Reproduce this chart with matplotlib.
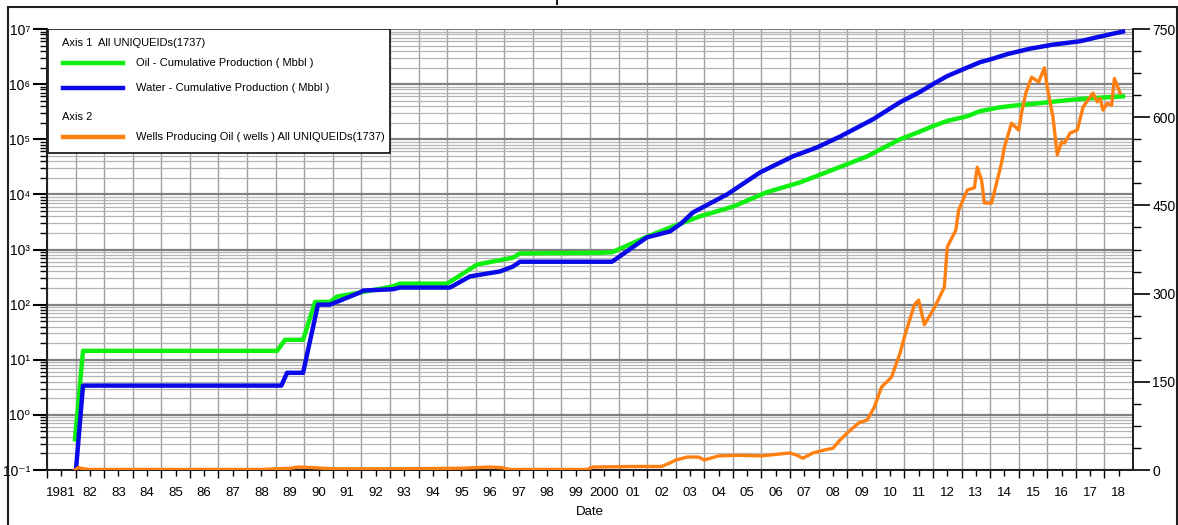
import matplotlib.pyplot as plt
import matplotlib.ticker as mticker
from matplotlib.lines import Line2D
from matplotlib.patches import Rectangle
import numpy as np

plt.rcParams['font.family'] = ['Liberation Sans', 'DejaVu Sans']

# cumulative oil (Mbbl)
oil_t = [1981.98, 1982.26, 1989.05, 1989.33, 1989.96, 1990.38, 1990.90, 1991.15, 1991.95,
         1993.10, 1993.35, 1995.00, 1996.05, 1997.30, 1997.55, 2000.35, 2000.77, 2001.99,
         2002.80, 2003.85, 2005.00, 2006.20, 2007.35, 2008.50, 2009.70, 2010.15, 2010.85,
         2011.50, 2012.00, 2012.50, 2013.20, 2013.65, 2014.00, 2014.35, 2014.90, 2015.40,
         2016.20, 2017.15, 2017.90, 2018.65]
oil_v = [0.36, 14.5, 14.5, 23, 23, 112, 112, 140, 166,
         214, 240, 240, 534, 710, 850, 870, 890, 1700,
         2500, 4000, 6000, 11000, 16500, 28000, 49000, 65000, 100000,
         135000, 173000, 215000, 262000, 324000, 350000, 380000, 410000, 433000,
         480000, 537000, 570000, 600000]

# cumulative water (Mbbl)
water_t = [1982.02, 1982.26, 1989.20, 1989.40, 1989.96, 1990.48, 1990.90, 1991.60, 1991.95,
           1992.06, 1993.10, 1993.35, 1995.10, 1995.80, 1996.85, 1997.30, 1997.55, 2000.77,
           2001.99, 2002.80, 2003.20, 2003.60, 2004.80, 2005.95, 2007.10, 2007.94, 2008.75,
           2009.90, 2010.85, 2011.50, 2012.00, 2012.50, 2013.20, 2013.65, 2014.10, 2014.60,
           2015.40, 2016.20, 2017.15, 2017.90, 2018.65]
water_v = [0.11, 3.4, 3.4, 5.8, 5.8, 100, 100, 140, 166,
           180, 190, 204, 204, 325, 400, 490, 600, 600,
           1660, 2130, 3000, 4700, 10000, 25000, 49000, 71000, 112000,
           230000, 470000, 700000, 1.0e6, 1.4e6, 2.0e6, 2.5e6, 2.9e6, 3.5e6,
           4.4e6, 5.2e6, 6.0e6, 7.4e6, 9.0e6]

# wells producing oil (right axis)
wells_t = [1981.98, 1982.10, 1982.30, 1982.50, 1985.00, 1988.50, 1989.50, 1989.80, 1990.30,
           1991.00, 1993.00, 1995.50, 1996.50, 1996.90, 1997.20, 1999.90, 2000.10, 2001.50,
           2002.50, 2002.80, 2003.00, 2003.40, 2003.80, 2004.00, 2004.50, 2005.20, 2006.00,
           2006.60, 2007.00, 2007.25, 2007.45, 2007.80, 2008.20, 2008.50, 2008.75, 2009.00,
           2009.40, 2009.70, 2009.95, 2010.20, 2010.55, 2010.85, 2011.00, 2011.35, 2011.50,
           2011.70, 2012.05, 2012.40, 2012.50, 2012.80, 2012.90, 2013.20, 2013.45, 2013.55,
           2013.70, 2013.80, 2014.05, 2014.40, 2014.50, 2014.75, 2015.00, 2015.10, 2015.25,
           2015.45, 2015.70, 2015.90, 2016.00, 2016.20, 2016.35, 2016.50, 2016.60, 2016.80,
           2017.05, 2017.25, 2017.35, 2017.60, 2017.75, 2017.85, 2017.95, 2018.10, 2018.25,
           2018.35, 2018.55]
wells_v = [0, 4, 2, 1, 1, 1, 3, 5, 4,
           2, 2, 3, 5, 4, 1, 1, 5, 6,
           6, 12, 17, 22, 22, 17, 24, 25, 24,
           27, 29, 25, 20, 29, 34, 37, 51, 63,
           80, 85, 107, 141, 158, 199, 226, 281, 289,
           247, 276, 311, 379, 408, 442, 476, 480, 515,
           493, 454, 454, 522, 549, 590, 578, 607, 641,
           668, 660, 684, 651, 600, 536, 558, 556, 573,
           578, 617, 624, 641, 626, 632, 612, 624, 620,
           666, 641]

years = list(range(1981, 2019))
year_labels = ['1981'] + ['%02d' % (y % 100) for y in years[1:19]] + ['2000'] + \
              ['%02d' % (y % 100) for y in years[20:]]

SUP = str.maketrans('-0123456789', '⁻⁰¹²³⁴⁵⁶⁷⁸⁹')

fig = plt.figure(figsize=(11.78, 5.25), dpi=100)
ax = fig.add_axes([47 / 1178, 55 / 525, 1086 / 1178, 441 / 525])
ax2 = ax.twinx()

ax.set_yscale('log')
ax.set_ylim(0.1, 1e7)
ax.set_xlim(1981, 2019)
ax2.set_ylim(0, 750)

ax.plot(oil_t, oil_v, color='#10f010', lw=3.2, zorder=3)
ax.plot(water_t, water_v, color='#0a0ae8', lw=3.2, zorder=4)
ax2.plot(wells_t, wells_v, color='#ff8010', lw=2.4, zorder=3)

# grid
ax.grid(which='major', axis='y', color='#808080', lw=1.6)
ax.grid(which='minor', axis='y', color='#b4b4b4', lw=0.9)
ax.set_xticks(years)
ax.set_xticks([y + 0.5 for y in years], minor=True)
ax.grid(which='major', axis='x', color='#a0a0a0', lw=1.0)
ax.set_axisbelow(True)

ax.xaxis.set_major_formatter(mticker.NullFormatter())
ax.xaxis.set_minor_formatter(mticker.FixedFormatter(year_labels))
ax.tick_params(axis='x', which='major', length=6, width=1, direction='out')
ax.tick_params(axis='x', which='minor', length=4, width=1, direction='out',
               labelsize=9.5, pad=8)

ax.yaxis.set_major_locator(mticker.LogLocator(base=10, numticks=20))
ax.yaxis.set_minor_locator(mticker.LogLocator(base=10, subs=np.arange(2, 10), numticks=20))
ax.yaxis.set_minor_formatter(mticker.NullFormatter())
ax.yaxis.set_major_formatter(mticker.FuncFormatter(
    lambda v, p: '10' + str(int(round(np.log10(v)))).translate(SUP)))
ax.tick_params(axis='y', which='major', length=10, width=1.5, labelsize=10, pad=2)
ax.tick_params(axis='y', which='minor', length=5, width=1)

ax2.set_yticks([0, 150, 300, 450, 600, 750])
ax2.set_yticks(np.arange(0, 751, 37.5), minor=True)
ax2.tick_params(axis='y', which='major', length=12, width=1.2, labelsize=10, pad=2)
ax2.tick_params(axis='y', which='minor', length=6, width=1)

for a in (ax, ax2):
    for s in a.spines.values():
        s.set_linewidth(1.3)
        s.set_color('#202020')
    a.spines['top'].set_visible(False)

ax.set_xlabel('Date', fontsize=9.5, labelpad=5)


# legend box, drawn in axes fractions from pixel positions
def fx(px):
    return (px - 47) / 1086


def fy(py):
    return (470 - py) / 441


ax2.add_patch(Rectangle((fx(48), fy(153)), fx(390) - fx(48), fy(29) - fy(153),
                        transform=ax2.transAxes, facecolor='white', edgecolor='#202020',
                        lw=1.3, zorder=10))
legend_rows = [
    (43, None, 'Axis 1  All UNIQUEIDs(1737)'),
    (63, '#10f010', 'Oil - Cumulative Production ( Mbbl )'),
    (88, '#0a0ae8', 'Water - Cumulative Production ( Mbbl )'),
    (117, None, 'Axis 2'),
    (137, '#ff8010', 'Wells Producing Oil ( wells ) All UNIQUEIDs(1737)'),
]
for py, col, label in legend_rows:
    if col is None:
        ax2.text(fx(62), fy(py), label, transform=ax2.transAxes, fontsize=8,
                 va='center', ha='left', zorder=11)
    else:
        ax2.add_line(Line2D([fx(63), fx(123)], [fy(py), fy(py)], transform=ax2.transAxes,
                            color=col, lw=3.2, zorder=11))
        ax2.text(fx(136), fy(py), label, transform=ax2.transAxes, fontsize=8,
                 va='center', ha='left', zorder=11)

# outer frame
fig.add_artist(Rectangle((8 / 1178, -0.01), 1169 / 1178, 1 - 7 / 525 + 0.01,
                         transform=fig.transFigure, fill=False, edgecolor='#202020', lw=1.5))
fig.add_artist(Line2D([557 / 1178, 557 / 1178], [1, 1 - 4 / 525], transform=fig.transFigure,
                      color='#202020', lw=1.5))

fig.savefig('out.png', dpi=100)
